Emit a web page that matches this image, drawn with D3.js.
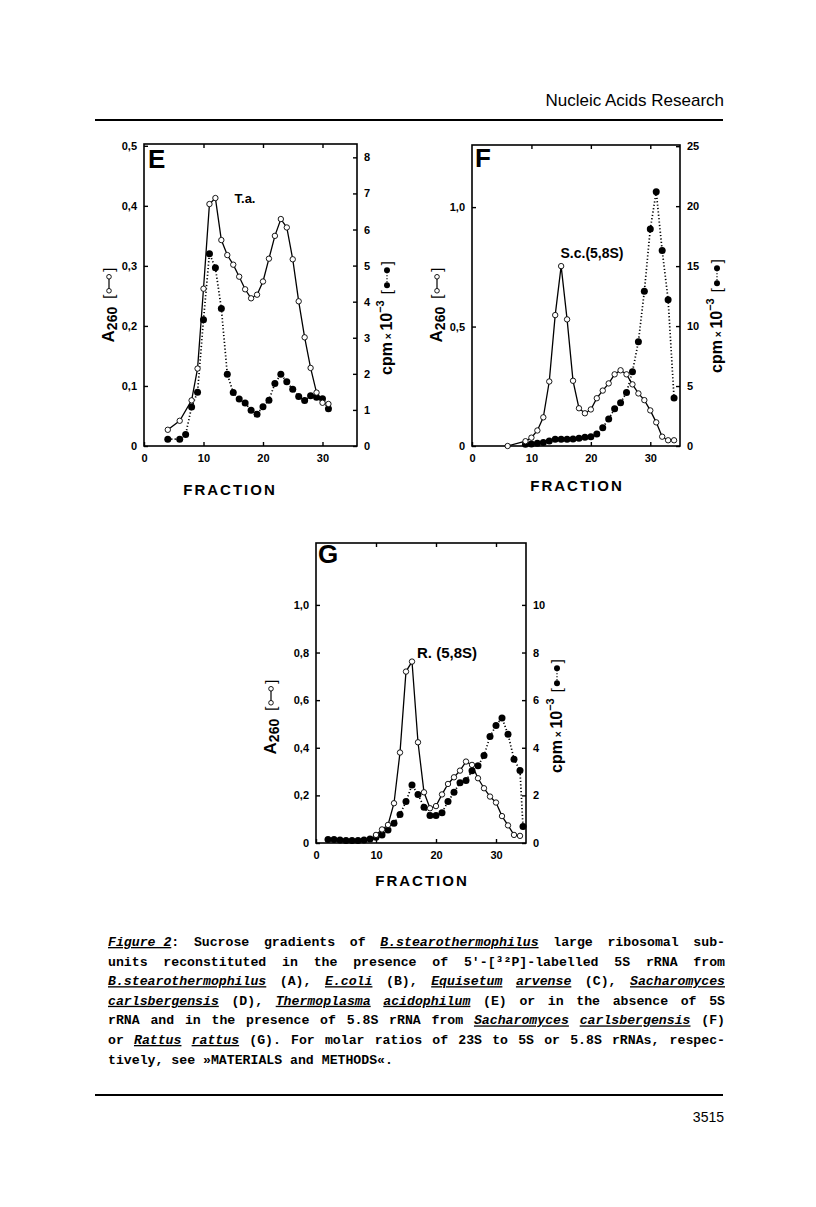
<!DOCTYPE html>
<html>
<head>
<meta charset="utf-8">
<script src="https://cdn.jsdelivr.net/npm/d3@7"></script>
<style>
  body { margin: 0; background: #fff; }
  svg { display: block; }
</style>
</head>
<body>
<svg id="page" width="816" height="1207"></svg>
<script>
// ---- data: [fraction, value] ----
const fractionTicks = [0, 10, 20, 30];

// E: Thermoplasma acidophilum
const taA260 = [[4,0.027],[6,0.042],[8,0.076],[9,0.129],[10,0.262],[11,0.403],[12,0.413],[13,0.343],[14,0.318],[15,0.302],[16,0.282],[17,0.261],[18,0.246],[19,0.252],[20,0.274],[21,0.312],[22,0.35],[23,0.378],[24,0.364],[25,0.311],[26,0.241],[27,0.181],[28,0.13],[29,0.089],[30,0.072],[31,0.07]];
const taCpm = [[4,0.19],[6,0.19],[7,0.32],[8,1.08],[9,1.49],[10,3.5],[11,5.33],[12,4.94],[13,3.81],[14,1.99],[15,1.48],[16,1.3],[17,1.19],[18,0.99],[19,0.88],[20,1.09],[21,1.27],[22,1.73],[23,1.99],[24,1.78],[25,1.57],[26,1.37],[27,1.26],[28,1.39],[29,1.35],[30,1.31],[31,1.03]];
const taA260Ticks = [0, 0.1, 0.2, 0.3, 0.4, 0.5];
const taCpmTicks = [0, 1, 2, 3, 4, 5, 6, 7, 8];

// F: S.c. 5.8S
const scA260 = [[6,0],[9,0.02],[10,0.035],[11,0.065],[12,0.12],[13,0.27],[14,0.548],[15,0.753],[16,0.53],[17,0.273],[18,0.158],[19,0.137],[20,0.153],[21,0.2],[22,0.232],[23,0.262],[24,0.3],[25,0.317],[26,0.3],[27,0.258],[28,0.22],[29,0.192],[30,0.149],[31,0.099],[32,0.039],[33,0.024],[34,0.024]];
const scCpm = [[9,0.14],[10,0.17],[11,0.22],[12,0.3],[13,0.42],[14,0.56],[15,0.56],[16,0.56],[17,0.58],[18,0.64],[19,0.72],[20,0.78],[21,1.0],[22,1.53],[23,2.25],[24,3.1],[25,3.6],[26,4.47],[27,6.2],[28,8.7],[29,12.9],[30,18.1],[31,21.2],[32,16.3],[33,12.2],[34,4.0]];
const scA260Ticks = [0, 0.5, 1.0];
const scCpmTicks = [0, 5, 10, 15, 20, 25];

// G: R. 5.8S
const rA260 = [[10,0.034],[11,0.057],[12,0.076],[13,0.167],[14,0.38],[15,0.72],[16,0.762],[17,0.423],[18,0.213],[19,0.146],[20,0.155],[21,0.204],[22,0.248],[23,0.276],[24,0.304],[25,0.342],[26,0.328],[27,0.272],[28,0.23],[29,0.195],[30,0.17],[31,0.113],[32,0.074],[33,0.034],[34,0.03]];
const rCpm = [[2,0.15],[3,0.15],[4,0.13],[5,0.1],[6,0.1],[7,0.1],[8,0.13],[9,0.17],[10,0.24],[11,0.34],[12,0.55],[13,0.83],[14,1.2],[15,1.74],[16,2.44],[17,2.04],[18,1.5],[19,1.15],[20,1.15],[21,1.27],[22,1.74],[23,2.13],[24,2.53],[25,2.62],[26,3.03],[27,3.24],[28,3.67],[29,4.47],[30,4.94],[31,5.25],[32,4.57],[33,3.52],[34,3.04],[34.5,0.69]];
const rA260Ticks = [0, 0.2, 0.4, 0.6, 0.8, 1.0];
const rCpmTicks = [0, 2, 4, 6, 8, 10];

const captionLines = [
  '_Figure\u00a02_:  Sucrose  gradients of _B.stearothermophilus_ large ribosomal  sub-',
  "units  reconstituted  in  the presence of 5'-[\u00b3\u00b2P]-labelled  5S  rRNA  from",
  '_B.stearothermophilus_ (A), _E.coli_ (B), _Equisetum_ _arvense_ (C), _Sacharomyces_',
  '_carlsbergensis_ (D), _Thermoplasma_ _acidophilum_ (E) or in the absence of 5S',
  'rRNA and in the presence of 5.8S rRNA from _Sacharomyces_ _carlsbergensis_ (F)',
  'or _Rattus_ _rattus_ (G). For molar ratios of 23S to 5S or 5.8S rRNAs, respec-',
  'tively, see \u00bbMATERIALS and METHODS\u00ab.'
];

const svg = d3.select('#page');
const SANS = '"Liberation Sans", Arial, Helvetica, sans-serif';
const MONO = '"Liberation Mono", "Courier New", monospace';

const commaFmt = d => (d === 0 ? '0' : d.toFixed(1).replace('.', ','));

const panels = [
  {
    left: 144, right: 357, top: 144, bottom: 446, xMax: 35.8, lMax: 0.503, rMax: 8.37,
    lTicks: taA260Ticks, rTicks: taCpmTicks, lFmt: commaFmt,
    open: taA260, filled: taCpm,
    letter: 'E', letterPos: [148, 168],
    title: 'T.a.', titlePos: [245, 203], titleSize: 13,
    leftLabel: [108, 305], rightLabel: [386, 318], fraction: [230, 495]
  },
  {
    left: 472, right: 680, top: 145, bottom: 446, xMax: 35, lMax: 1.26, rMax: 25.1,
    lTicks: scA260Ticks, rTicks: scCpmTicks, lFmt: commaFmt,
    open: scA260, filled: scCpm,
    letter: 'F', letterPos: [475, 167],
    title: 'S.c.(5,8S)', titlePos: [592, 258], titleSize: 14,
    leftLabel: [436, 305], rightLabel: [716, 316], fraction: [577, 491]
  },
  {
    left: 316, right: 526, top: 543, bottom: 843, xMax: 35, lMax: 1.26, rMax: 12.6,
    lTicks: rA260Ticks, rTicks: rCpmTicks, lFmt: commaFmt,
    open: rA260, filled: rCpm,
    letter: 'G', letterPos: [318, 563],
    title: 'R. (5,8S)', titlePos: [447, 658], titleSize: 15,
    leftLabel: [270, 717], rightLabel: [556, 716], fraction: [422, 886]
  }
];

function styleAxis(sel) {
  sel.select('.domain').remove();
  sel.selectAll('line').attr('stroke', '#000').attr('stroke-width', 1.4);
  sel.selectAll('text')
    .attr('fill', '#000')
    .style('font-family', SANS)
    .style('font-weight', 'bold')
    .style('font-size', '11px');
}

function leftAxisLabel(p) {
  const g = svg.append('g');
  const inner = g.append('g');
  const t = inner.append('text')
    .attr('x', 0).attr('y', 0)
    .style('font-family', SANS).style('font-weight', 'bold').style('font-size', '17px');
  t.append('tspan').text('A');
  t.append('tspan').attr('dy', 3).style('font-size', '14px').text('260');
  const w = t.node().getComputedTextLength();
  let x = w + 8;
  inner.append('text').attr('x', x).attr('y', 0)
    .style('font-family', SANS).style('font-size', '15px').text('[');
  x += 8;
  inner.append('line').attr('x1', x + 2).attr('x2', x + 12).attr('y1', -5).attr('y2', -5)
    .attr('stroke', '#000').attr('stroke-width', 1.2);
  [x, x + 14].forEach(cx => inner.append('circle').attr('cx', cx).attr('cy', -5).attr('r', 2.3)
    .attr('fill', '#fff').attr('stroke', '#000').attr('stroke-width', 0.9));
  x += 19;
  inner.append('text').attr('x', x).attr('y', 0)
    .style('font-family', SANS).style('font-size', '15px').text(']');
  const bb = inner.node().getBBox();
  inner.attr('transform', `translate(${-bb.width / 2},6)`);
  g.attr('transform', `translate(${p.leftLabel[0]},${p.leftLabel[1]}) rotate(-90)`);
}

function rightAxisLabel(p) {
  const g = svg.append('g');
  const inner = g.append('g');
  const t = inner.append('text')
    .attr('x', 0).attr('y', 0)
    .style('font-family', SANS).style('font-weight', 'bold').style('font-size', '16px');
  t.append('tspan').text('cpm');
  t.append('tspan').style('font-size', '10px').text(' \u00d7 ');
  t.append('tspan').text('10');
  t.append('tspan').attr('dy', -8).style('font-size', '11px').text('\u22123');
  const w = t.node().getComputedTextLength();
  let x = w + 6;
  inner.append('text').attr('x', x).attr('y', 0)
    .style('font-family', SANS).style('font-size', '15px').text('[');
  x += 9;
  inner.append('line').attr('x1', x).attr('x2', x + 15).attr('y1', -5).attr('y2', -5)
    .attr('stroke', '#000').attr('stroke-width', 1.4).attr('stroke-dasharray', '1,2');
  [x, x + 15].forEach(cx => inner.append('circle').attr('cx', cx).attr('cy', -5).attr('r', 3)
    .attr('fill', '#000'));
  x += 20;
  inner.append('text').attr('x', x).attr('y', 0)
    .style('font-family', SANS).style('font-size', '15px').text(']');
  const bb = inner.node().getBBox();
  inner.attr('transform', `translate(${-bb.width / 2},6)`);
  g.attr('transform', `translate(${p.rightLabel[0]},${p.rightLabel[1]}) rotate(-90)`);
}

function drawPanel(p) {
  const x = d3.scaleLinear().domain([0, p.xMax]).range([p.left, p.right]);
  const yL = d3.scaleLinear().domain([0, p.lMax]).range([p.bottom, p.top]);
  const yR = d3.scaleLinear().domain([0, p.rMax]).range([p.bottom, p.top]);

  const g = svg.append('g');

  g.append('g').attr('transform', `translate(${p.left},0)`)
    .call(d3.axisLeft(yL).tickValues(p.lTicks).tickSize(-4).tickPadding(7).tickFormat(p.lFmt))
    .call(styleAxis);
  g.append('g').attr('transform', `translate(${p.right},0)`)
    .call(d3.axisRight(yR).tickValues(p.rTicks).tickSize(-4).tickPadding(7).tickFormat(d3.format('d')))
    .call(styleAxis);
  g.append('g').attr('transform', `translate(0,${p.bottom})`)
    .call(d3.axisBottom(x).tickValues(fractionTicks).tickSize(-4).tickPadding(8).tickFormat(d3.format('d')))
    .call(styleAxis);
  g.append('g').attr('transform', `translate(0,${p.top})`)
    .call(d3.axisTop(x).tickValues(fractionTicks.slice(1)).tickSize(-4).tickFormat(''))
    .call(styleAxis);

  g.append('rect')
    .attr('x', p.left).attr('y', p.top)
    .attr('width', p.right - p.left).attr('height', p.bottom - p.top)
    .attr('fill', 'none').attr('stroke', '#000').attr('stroke-width', 1.6);

  const lineL = d3.line().x(d => x(d[0])).y(d => yL(d[1]));
  const lineR = d3.line().x(d => x(d[0])).y(d => yR(d[1]));

  g.append('path').datum(p.open).attr('d', lineL)
    .attr('fill', 'none').attr('stroke', '#000').attr('stroke-width', 1.3);
  g.append('path').datum(p.filled).attr('d', lineR)
    .attr('fill', 'none').attr('stroke', '#000').attr('stroke-width', 1.7)
    .attr('stroke-dasharray', '1.2,2.2');

  g.append('g').selectAll('circle').data(p.filled).join('circle')
    .attr('cx', d => x(d[0])).attr('cy', d => yR(d[1])).attr('r', 3.5)
    .attr('fill', '#000');
  g.append('g').selectAll('circle').data(p.open).join('circle')
    .attr('cx', d => x(d[0])).attr('cy', d => yL(d[1])).attr('r', 2.7)
    .attr('fill', '#fff').attr('stroke', '#000').attr('stroke-width', 0.9);

  g.append('text').attr('x', p.letterPos[0]).attr('y', p.letterPos[1])
    .style('font-family', SANS).style('font-weight', 'bold').style('font-size', '26px')
    .text(p.letter);
  g.append('text').attr('x', p.titlePos[0]).attr('y', p.titlePos[1])
    .attr('text-anchor', 'middle')
    .style('font-family', SANS).style('font-weight', 'bold').style('font-size', p.titleSize + 'px')
    .text(p.title);
  g.append('text').attr('x', p.fraction[0]).attr('y', p.fraction[1])
    .attr('text-anchor', 'middle')
    .style('font-family', SANS).style('font-weight', 'bold').style('font-size', '15px')
    .style('letter-spacing', '2px')
    .text('FRACTION');

  leftAxisLabel(p);
  rightAxisLabel(p);
}

panels.forEach(drawPanel);

// header
svg.append('text').attr('x', 724).attr('y', 106).attr('text-anchor', 'end')
  .style('font-family', SANS).style('font-size', '17px').text('Nucleic Acids Research');
svg.append('line').attr('x1', 95).attr('x2', 723).attr('y1', 120).attr('y2', 120)
  .attr('stroke', '#000').attr('stroke-width', 2);

// caption, justified like the typewritten original
const capLeft = 108, capRight = 725, capTop = 946, capStep = 19.6;
captionLines.forEach((line, i) => {
  const words = line.split(/ +/);
  const y = capTop + i * capStep;
  const nodes = words.map(w => {
    const t = svg.append('text').attr('y', y)
      .style('font-family', MONO).style('font-weight', 'bold').style('font-size', '13.2px');
    w.split('_').forEach((seg, k) => {
      if (!seg) return;
      const ts = t.append('tspan').text(seg);
      if (k % 2 === 1) ts.style('font-style', 'italic').style('text-decoration', 'underline');
    });
    return t;
  });
  const widths = nodes.map(n => n.node().getComputedTextLength());
  const total = d3.sum(widths);
  const last = i === captionLines.length - 1;
  const space = 7.92;
  const gap = last ? space : (capRight - capLeft - total) / (words.length - 1);
  let cx = capLeft;
  nodes.forEach((n, k) => {
    n.attr('x', cx);
    cx += widths[k] + gap;
  });
});

// footer
svg.append('line').attr('x1', 95).attr('x2', 723).attr('y1', 1095).attr('y2', 1095)
  .attr('stroke', '#000').attr('stroke-width', 2);
svg.append('text').attr('x', 724).attr('y', 1122).attr('text-anchor', 'end')
  .style('font-family', SANS).style('font-size', '14px').text('3515');
</script>
</body>
</html>
